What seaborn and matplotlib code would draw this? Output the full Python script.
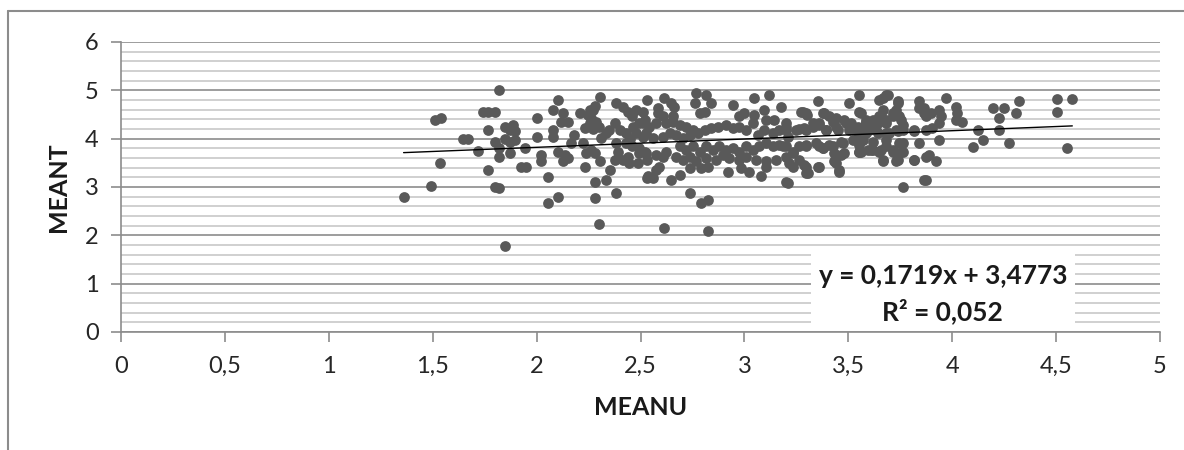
import numpy as np
import pandas as pd
import seaborn as sns
from matplotlib import pyplot as plt
from matplotlib.lines import Line2D
from matplotlib.patches import Rectangle

# values, grouped by x range
meanu_a = [1.36, 1.49, 1.51, 1.54, 1.535, 1.645, 1.67, 1.72, 1.74, 1.765, 1.80, 1.765, 1.765, 1.80, 1.82,
           1.82, 1.846, 1.846, 1.886, 1.894, 1.80, 1.82, 1.846, 1.87, 1.894, 1.87, 1.82, 1.87, 1.942, 1.926, 1.95]
meant_a = [2.80, 3.03, 4.39, 4.42, 3.49, 3.99, 3.99, 3.75, 4.55, 4.55, 4.55, 4.18, 3.35, 3.01, 2.97,
           5.01, 1.78, 4.25, 4.29, 4.15, 3.94, 3.63, 4.00, 3.94, 3.98, 3.70, 3.81, 4.18, 3.80, 3.41, 3.41]

meanu_b = [2.0, 2.0, 2.023, 2.023, 2.054, 2.054, 2.079, 2.079, 2.079, 2.103, 2.103, 2.103, 2.135, 2.151,
           2.127, 2.127, 2.151, 2.119, 2.207, 2.18, 2.167, 2.223, 2.231, 2.231, 2.239, 2.247, 2.255, 2.263,
           2.271, 2.28, 2.287, 2.255, 2.26, 2.30, 2.27, 2.28, 2.31, 2.335, 2.35, 2.279, 2.279, 2.30, 2.303,
           2.303, 2.335, 2.351, 2.383, 2.375, 2.383, 2.415, 2.439, 2.399, 2.431, 2.383, 2.375, 2.415, 2.439,
           2.391, 2.43, 2.48, 2.495, 2.52, 2.48, 2.51, 2.46, 2.495, 2.52, 2.49, 2.53, 2.53, 2.53, 2.463,
           2.447, 2.46, 2.45]
meant_b = [4.42, 4.04, 3.66, 3.53, 3.20, 2.66, 4.60, 4.18, 4.04, 4.80, 2.80, 3.73, 3.66, 3.60,
           3.53, 4.53, 4.35, 4.35, 4.53, 4.08, 3.91, 3.91, 3.42, 4.22, 3.70, 4.49, 4.32, 3.77,
           4.60, 4.67, 4.35, 4.60, 4.42, 4.25, 4.21, 3.70, 4.01, 4.12, 4.18, 3.11, 2.77, 2.23, 4.87,
           3.53, 3.15, 3.35, 2.87, 4.32, 4.73, 4.66, 4.56, 4.18, 4.11, 3.91, 3.56, 3.56, 3.63,
           3.73, 3.91, 4.60, 4.32, 4.39, 4.11, 4.04, 3.84, 3.70, 3.73, 3.49, 3.56, 3.18, 4.80, 4.25,
           3.49, 4.46, 4.00]

meanu_c = [2.615, 2.648, 2.663, 2.583, 2.583, 2.607, 2.655, 2.511, 2.511, 2.543, 2.575, 2.624, 2.655, 2.688,
           2.72, 2.751, 2.527, 2.559, 2.607, 2.64, 2.672, 2.703, 2.736, 2.775, 2.808, 2.84, 2.872, 2.912,
           2.944, 2.976, 3.008,
           2.688, 2.72, 2.751, 2.784, 2.816, 2.848, 2.88, 2.912, 2.944, 2.976, 3.008, 3.04, 3.072, 3.104,
           3.136, 3.168, 3.2,
           2.495, 2.527, 2.575, 2.624, 2.672, 2.703, 2.736, 2.768, 2.816, 2.864, 2.896, 2.928, 2.976, 3.008,
           3.056, 3.104, 3.152, 3.2,
           2.591, 2.607, 2.575, 2.535, 2.559, 2.648, 2.688, 2.736, 2.792, 2.824, 2.92, 2.984, 3.024, 3.08,
           3.104, 3.2,
           2.736, 2.792, 2.824, 2.615, 2.824,
           2.768, 2.76, 2.816, 2.84, 2.784, 2.808, 2.944, 2.976, 3.0, 3.048, 3.048, 3.096, 3.12, 3.176,
           3.144, 3.104, 3.04, 3.064, 3.096, 3.136, 3.168, 3.2, 3.208]
meant_c = [4.84, 4.73, 4.66, 4.63, 4.53, 4.46, 4.46, 4.56, 4.32, 4.25, 4.32, 4.32, 4.35, 4.29,
           4.25, 4.18, 4.11, 4.01, 4.04, 4.11, 4.08, 4.01, 4.08, 4.11, 4.18, 4.22, 4.25, 4.29,
           4.22, 4.25, 4.18,
           3.84, 3.77, 3.84, 3.73, 3.84, 3.77, 3.84, 3.77, 3.80, 3.73, 3.84, 3.77, 3.84, 3.91,
           3.84, 3.87, 3.84,
           3.80, 3.70, 3.66, 3.73, 3.63, 3.56, 3.63, 3.53, 3.60, 3.56, 3.66, 3.60, 3.56, 3.63,
           3.56, 3.53, 3.56, 3.63,
           3.42, 3.63, 3.35, 3.22, 3.18, 3.15, 3.25, 3.39, 3.39, 3.42, 3.32, 3.39, 3.32, 3.22,
           3.42, 3.11,
           2.87, 2.66, 2.73, 2.15, 2.08,
           4.94, 4.73, 4.91, 4.73, 4.53, 4.56, 4.70, 4.46, 4.53, 4.84, 4.49, 4.60, 4.91, 4.66,
           4.39, 4.39, 4.32, 4.08, 4.18, 4.11, 4.18, 4.25, 4.04]

meanu_d = [3.273, 3.297, 3.353, 3.377, 3.409, 3.441, 3.505, 3.553, 3.553, 3.264, 3.297, 3.329, 3.361, 3.393,
           3.441, 3.489, 3.521, 3.585, 3.297, 3.345, 3.377, 3.425, 3.473, 3.521, 3.553, 3.232, 3.264, 3.297,
           3.361, 3.297, 3.441, 3.465, 3.457, 3.553, 3.593, 3.208,
           3.28, 3.30, 3.385, 3.649, 3.681, 3.737, 3.841, 3.865,
           3.20, 3.20, 3.248, 3.288, 3.329, 3.361, 3.393, 3.425, 3.449, 3.481, 3.513, 3.545, 3.585, 3.617,
           3.649, 3.681, 3.713, 3.745, 3.761, 3.729, 3.681, 3.633, 3.585, 3.553, 3.505, 3.817, 3.873,
           3.184, 3.232, 3.264, 3.297, 3.361, 3.409, 3.465, 3.553, 3.617, 3.649, 3.681, 3.713, 3.745, 3.761,
           3.665, 3.729, 3.553, 3.481, 3.433, 3.377, 3.216, 3.232, 3.288, 3.304, 3.353, 3.433, 3.457, 3.817,
           3.841, 3.873, 3.761, 3.865]
meant_d = [4.56, 4.53, 4.77, 4.53, 4.46, 4.42, 4.74, 4.91, 4.56, 4.21, 4.18, 4.25, 4.32, 4.18,
           4.25, 4.32, 4.21, 4.32, 3.84, 3.91, 3.80, 3.84, 3.91, 3.97, 3.87, 3.70, 3.56, 3.42,
           3.42, 3.29, 3.49, 3.66, 3.32, 3.73, 3.76, 3.09,
           4.56, 4.49, 4.53, 4.80, 4.91, 4.73, 4.77, 4.53,
           4.32, 4.18, 4.18, 4.22, 4.32, 4.29, 4.18, 4.35, 4.18, 4.39, 4.32, 4.25, 4.39, 4.32,
           4.46, 4.39, 4.53, 4.46, 4.29, 4.18, 4.11, 4.18, 4.11, 4.08, 4.18, 4.18, 4.18,
           3.84, 3.73, 3.84, 3.87, 3.84, 3.87, 3.94, 3.91, 3.77, 3.73, 3.84, 3.77, 3.70, 3.91,
           3.56, 3.53, 3.73, 3.70, 3.70, 3.80, 3.49, 3.42, 3.46, 3.29, 3.42, 3.53, 3.35, 3.56,
           3.91, 3.63, 3.01, 3.15]

meanu_e = [3.665, 3.689, 3.737, 3.729, 3.665, 3.657, 3.617, 3.585, 3.561, 3.561, 3.601, 3.641, 3.681, 3.713,
           3.753, 3.761, 3.641, 3.697, 3.737, 3.569, 3.617, 3.681, 3.745, 3.561, 3.609, 3.657, 3.713, 3.761,
           3.665, 3.737, 3.817, 3.873, 3.817, 3.841, 3.865, 3.873, 3.897, 3.938, 3.945, 3.969, 4.017,
           4.025, 4.017, 4.049, 3.938, 3.905, 3.938, 3.889, 3.921, 4.122, 4.146, 4.098, 4.194, 4.25, 4.306,
           4.322, 4.226, 4.226, 4.274, 4.506, 4.578, 4.506, 4.554]
meant_e = [4.84, 4.91, 4.77, 4.60, 4.60, 4.46, 4.39, 4.35, 4.53, 4.18, 4.18, 4.32, 4.32, 4.46,
           4.39, 4.18, 4.11, 4.11, 4.15, 3.98, 3.94, 3.98, 3.91, 3.73, 3.77, 3.77, 3.73, 3.73,
           3.53, 3.56, 3.56, 3.15, 4.15, 4.63, 4.63, 4.46, 4.53, 4.60, 4.46, 4.84, 4.66,
           4.53, 4.39, 4.35, 4.32, 4.22, 3.98, 3.67, 3.53, 4.18, 3.98, 3.83, 4.63, 4.63, 4.53,
           4.77, 4.42, 4.18, 3.91, 4.82, 4.82, 4.56, 3.80]

# Excel linear trendline printed on the chart
trend_slope = 0.1719
trend_intercept = 3.4773
trend_text = "y = 0,1719x + 3,4773"
r2_text = "R\u00b2 = 0,052"

df = pd.DataFrame({
    "MEANU": meanu_a + meanu_b + meanu_c + meanu_d + meanu_e,
    "MEANT": meant_a + meant_b + meant_c + meant_d + meant_e,
})

sns.set_style("white")
plt.rcParams["font.family"] = ["Lato", "DejaVu Sans"]

fig = plt.figure(figsize=(11.84, 4.5), dpi=100)
ax = fig.add_axes([121 / 1184, 1 - 332 / 450, (1160 - 121) / 1184, (332 - 42) / 450])

sns.scatterplot(data=df, x="MEANU", y="MEANT", color="#595959", s=60, linewidth=0, ax=ax, zorder=3)

tx = np.array([df["MEANU"].min(), df["MEANU"].max()])
ax.plot(tx, trend_slope * tx + trend_intercept, color="black", linewidth=1.0, zorder=4)

ax.set_xlim(0, 5)
ax.set_ylim(0, 6)
ax.set_xticks(np.arange(0, 5.01, 0.5))
ax.set_xticklabels(["0", "0,5", "1", "1,5", "2", "2,5", "3", "3,5", "4", "4,5", "5"])
ax.set_yticks(np.arange(0, 7, 1))
ax.set_yticks(np.arange(0, 6.01, 0.2), minor=True)
ax.grid(axis="y", which="minor", color="#c8c8c8", linewidth=1.2, zorder=0)
ax.grid(axis="y", which="major", color="#8c8c8c", linewidth=1.2, zorder=0)
ax.set_axisbelow(True)
for side in ["top", "right"]:
    ax.spines[side].set_visible(False)
for side in ["left", "bottom"]:
    ax.spines[side].set_color("#8c8c8c")
    ax.spines[side].set_linewidth(1.2)
ax.tick_params(axis="both", which="major", length=7, width=1.2, color="#8c8c8c",
               labelsize=17, labelcolor="#262626")
ax.tick_params(axis="x", pad=10)
ax.tick_params(axis="y", pad=9)
ax.tick_params(axis="y", which="minor", length=0)
ax.tick_params(axis="x", bottom=True)
ax.tick_params(axis="y", left=True)

ax.set_xlabel("MEANU", fontsize=18, fontweight="bold", color="#1a1a1a")
ax.set_ylabel("MEANT", fontsize=18, fontweight="bold", color="#1a1a1a")
ax.xaxis.set_label_coords(0.5, -0.259)
ax.xaxis.label.set_va("center")
ax.yaxis.set_label_coords((59 - 121) / 1039, (332 - 187) / 290)
ax.yaxis.label.set_va("center")

# white box behind the equation
ax.add_patch(Rectangle((3.32, 0.02), 1.27, 1.72, facecolor="white", edgecolor="none", zorder=2))
ax.text(3.955, 1.15, trend_text, ha="center", va="center", fontsize=19, fontweight="bold",
        color="#1a1a1a", zorder=5)
ax.text(3.955, 0.44, r2_text, ha="center", va="center", fontsize=19, fontweight="bold",
        color="#1a1a1a", zorder=5)

# outer chart frame (top and left edges visible)
fx = 8 / 1184
fy = 1 - 11 / 450
fig.add_artist(Line2D([fx, fx], [-0.1, fy], color="#8c8c8c", linewidth=1.5, transform=fig.transFigure))
fig.add_artist(Line2D([fx, 1.1], [fy, fy], color="#8c8c8c", linewidth=1.5, transform=fig.transFigure))

plt.savefig("out.png", dpi=100)
